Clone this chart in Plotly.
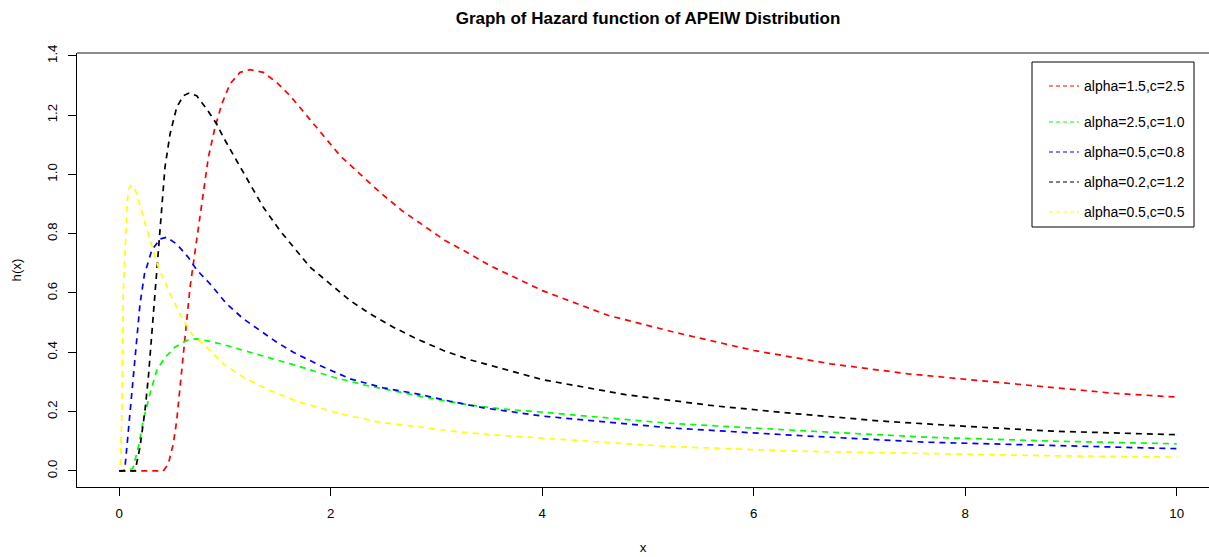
import plotly.graph_objects as go

# ---- data ----
x_ticks = [0, 2, 4, 6, 8, 10]
y_ticks = [0.0, 0.2, 0.4, 0.6, 0.8, 1.0, 1.2, 1.4]
y_tick_labels = ["0.0", "0.2", "0.4", "0.6", "0.8", "1.0", "1.2", "1.4"]

red_name = "alpha=1.5,c=2.5"
red_x = [0, 0.15, 0.3, 0.416, 0.464, 0.511, 0.543, 0.574, 0.606, 0.638, 0.669, 0.70, 0.747,
         0.795, 0.842, 0.905, 0.969, 1.047, 1.142, 1.237, 1.362, 1.489, 1.615, 1.773, 1.915,
         2.088, 2.277, 2.466, 2.672, 2.876, 3.081, 3.287, 3.507, 3.83, 4.0, 4.627, 5.274,
         6.002, 6.729, 7.457, 8.104, 8.751, 9.397, 10.0]
red_y = [0, 0, 0, 0.0, 0.024, 0.092, 0.17, 0.282, 0.395, 0.507, 0.619, 0.698, 0.821,
         0.945, 1.057, 1.158, 1.237, 1.305, 1.344, 1.353, 1.344, 1.31, 1.265, 1.198, 1.136,
         1.063, 1.001, 0.939, 0.878, 0.827, 0.777, 0.737, 0.692, 0.637, 0.608, 0.524, 0.4655,
         0.406, 0.361, 0.3275, 0.305, 0.282, 0.262, 0.249]

green_name = "alpha=2.5,c=1.0"
green_x = [0, 0.127, 0.18, 0.227, 0.29, 0.354, 0.432, 0.527, 0.638, 0.732, 0.858, 1.016,
           1.237, 1.457, 1.678, 2.025, 2.34, 2.656, 2.971, 3.287, 3.601, 4.0, 5.193, 6.406,
           7.619, 8.832, 10.0]
green_y = [0, 0.007, 0.08, 0.17, 0.26, 0.339, 0.383, 0.417, 0.44, 0.445, 0.437, 0.423,
           0.40, 0.378, 0.355, 0.316, 0.288, 0.2656, 0.243, 0.224, 0.2094, 0.198, 0.161,
           0.1365, 0.114, 0.1005, 0.0915]

blue_name = "alpha=0.5,c=0.8"
blue_x = [0, 0.044, 0.054, 0.101, 0.149, 0.196, 0.243, 0.259, 0.306, 0.385, 0.448, 0.543,
          0.653, 0.732, 0.858, 1.016, 1.173, 1.331, 1.489, 1.646, 1.804, 1.898, 2.183, 2.498,
          2.813, 3.129, 3.444, 3.76, 4.0, 5.193, 6.406, 7.619, 8.832, 10.0]
blue_y = [0, 0, 0.013, 0.204, 0.395, 0.563, 0.6755, 0.687, 0.743, 0.782, 0.788, 0.765,
          0.72, 0.678, 0.631, 0.563, 0.513, 0.473, 0.434, 0.40, 0.372, 0.3555, 0.3106, 0.280,
          0.26, 0.235, 0.2128, 0.198, 0.185, 0.1455, 0.1196, 0.097, 0.086, 0.075]

black_name = "alpha=0.2,c=1.2"
black_x = [0, 0.149, 0.196, 0.243, 0.275, 0.306, 0.338, 0.354, 0.401, 0.432, 0.48, 0.543,
           0.606, 0.66, 0.732, 0.827, 0.921, 0.984, 1.11, 1.237, 1.362, 1.52, 1.646, 1.804,
           1.993, 2.183, 2.372, 2.592, 2.813, 3.065, 3.318, 3.570, 3.822, 4.0, 4.789, 5.597,
           6.406, 7.215, 8.024, 8.832, 10.0]
black_y = [0, 0, 0.08, 0.204, 0.316, 0.45, 0.608, 0.6755, 0.878, 1.024, 1.136, 1.226,
           1.265, 1.274, 1.265, 1.22, 1.17, 1.125, 1.046, 0.968, 0.889, 0.81, 0.754, 0.687,
           0.631, 0.5745, 0.5297, 0.4845, 0.4454, 0.406, 0.3746, 0.35, 0.3275, 0.308, 0.257,
           0.2207, 0.1927, 0.1678, 0.15, 0.134, 0.122]

yellow_name = "alpha=0.5,c=0.5"
yellow_x = [0.01, 0.025, 0.038, 0.047, 0.06, 0.075, 0.095, 0.117, 0.14, 0.165, 0.227, 0.29,
            0.369, 0.496, 0.59, 0.685, 0.827, 0.984, 1.173, 1.426, 1.678, 2.087, 2.465, 2.845,
            3.223, 3.601, 4.0, 5.193, 6.406, 7.619, 8.832, 10.0]
yellow_y = [0.02, 0.2, 0.6, 0.69, 0.82, 0.91, 0.955, 0.964, 0.955, 0.934, 0.855, 0.777,
            0.687, 0.586, 0.518, 0.462, 0.417, 0.361, 0.316, 0.271, 0.235, 0.193, 0.164, 0.148,
            0.131, 0.12, 0.11, 0.0825, 0.0667, 0.058, 0.051, 0.0466]

# ---- layout geometry (pixels) ----
W, H = 1209, 557
L, R, T, B = 77, 0, 53, 70
PW, PH = W - L - R, H - T - B


def px_x(p):
    return (p - L) / PW


def px_y(p):
    return (H - B - p) / PH


FONT = "Liberation Sans, Arial, Helvetica, sans-serif"

fig = go.Figure()
series = [
    (red_name, red_x, red_y, "#FF0000", "legend", "g1"),
    (green_name, green_x, green_y, "#00FF00", "legend2", "g2"),
    (blue_name, blue_x, blue_y, "#0000FF", "legend2", "g3"),
    (black_name, black_x, black_y, "#000000", "legend2", "g4"),
    (yellow_name, yellow_x, yellow_y, "#FFFF00", "legend2", "g5"),
]
# plotted curves
for name, xs, ys, col, leg, grp in series:
    fig.add_trace(go.Scatter(
        x=xs, y=ys, mode="lines", name=name,
        line=dict(color=col, width=1.7, dash="6px,5px"),
        legendgroup=grp, showlegend=False,
    ))
# legend keys (thin short dashes as in the reference key)
for name, xs, ys, col, leg, grp in series:
    fig.add_trace(go.Scatter(
        x=[None], y=[None], mode="lines", name=name,
        line=dict(color=col, width=1, dash="4px,3px"),
        legend=leg, legendgroup=grp, showlegend=True, hoverinfo="skip",
    ))

fig.update_layout(
    width=W, height=H,
    margin=dict(l=L, r=R, t=T, b=B, pad=0),
    plot_bgcolor="white", paper_bgcolor="white",
    font=dict(family=FONT, size=13.3, color="black"),
    title=dict(
        text="<b>Graph of Hazard function of APEIW Distribution</b>",
        x=px_x(648), xref="paper", xanchor="center",
        y=1 - 18 / H, yref="container", yanchor="middle",
        font=dict(family=FONT, size=17, color="black"),
    ),
    xaxis=dict(
        range=[-0.4, 10.3055], tickvals=x_ticks, ticks="outside", ticklen=8,
        tickcolor="black", tickwidth=1, showline=True, linecolor="black", linewidth=1,
        showgrid=False, zeroline=False, ticklabelstandoff=6,
        title=dict(text="x", standoff=22, font=dict(size=13.3)),
    ),
    yaxis=dict(
        range=[-0.0542, 1.4092], tickvals=y_ticks, ticktext=y_tick_labels,
        tickangle=-90, ticks="outside", ticklen=8, tickcolor="black", tickwidth=1,
        showline=True, linecolor="black", linewidth=1, showgrid=False, zeroline=False,
        ticklabelstandoff=6,
        title=dict(text="h(x)", standoff=20, font=dict(size=13.3)),
    ),
    showlegend=True,
    legend=dict(
        x=px_x(1044), xanchor="left", y=px_y(70.4), yanchor="top",
        bgcolor="rgba(0,0,0,0)", borderwidth=0, font=dict(family=FONT, size=14),
        traceorder="grouped",
    ),
    legend2=dict(
        x=px_x(1044), xanchor="left", y=px_y(106.4), yanchor="top",
        bgcolor="rgba(0,0,0,0)", borderwidth=0, font=dict(family=FONT, size=14),
        traceorder="grouped", tracegroupgap=8.8,
    ),
    shapes=[
        dict(type="line", xref="paper", yref="paper", x0=0, x1=1, y0=1, y1=1,
             line=dict(color="#666666", width=1.5), layer="above"),
        dict(type="rect", xref="paper", yref="paper",
             x0=px_x(1032), x1=px_x(1194), y0=px_y(227), y1=px_y(62),
             line=dict(color="black", width=1), fillcolor="white", layer="above"),
    ],
)

fig.write_html("out.html")
